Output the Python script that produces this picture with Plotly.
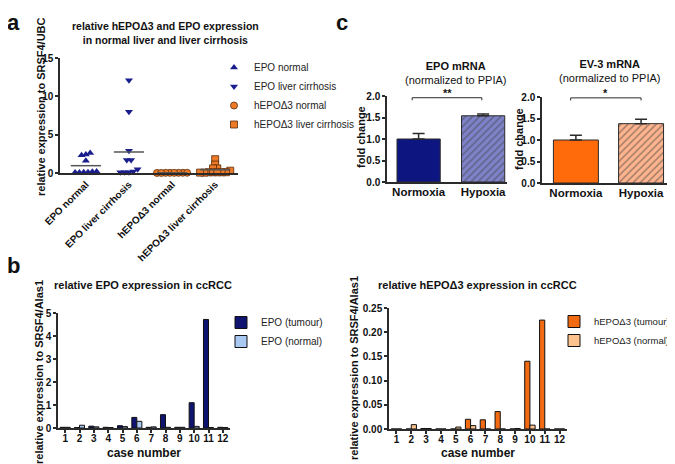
import numpy as np
import plotly.graph_objects as go

# reference picture size; the page body adds an 8px margin, so the figure is drawn 8px smaller
W, H = 675, 464
PAD = 8
FONT = "Liberation Sans"
NAVY = "#1a1d8c"
ORANGE = "#ec7a26"
DARK = "#2b2b2b"

# panel a: relative expression in liver (dot plot)
groups_a = ["EPO normal", "EPO liver cirrhosis", "hEPOΔ3 normal", "hEPOΔ3 liver cirrhosis"]
epo_normal = [2.6, 2.4, 2.3, 1.6, 0.1, 0.05, 0.1, 0.15, 0.05, 0.2]
epo_cirrhosis = [12.1, 8.0, 2.9, 1.7, 1.7, 0.5, 0.1, 0.1, 0.2, 0.1]
hepo_normal = [0.02, 0.03, 0.01, 0.02, 0.03, 0.02, 0.01, 0.02]
hepo_cirrhosis = [1.8, 1.1, 0.6, 0.6, 0.3, 0.1, 0.1, 0.1, 0.1, 0.05, 0.05, 0.1]

# panel b: ccRCC cases
cases = list(range(1, 13))
epo_tumour = [0.03, 0.02, 0.08, 0.03, 0.1, 0.46, 0.03, 0.58, 0.03, 1.1, 4.72, 0.03]
epo_normal_tissue = [0.03, 0.12, 0.05, 0.02, 0.06, 0.29, 0.05, 0.03, 0.03, 0.07, 0.02, 0.02]
hepo_tumour = [0.0, 0.0, 0.001, 0.0, 0.0, 0.02, 0.019, 0.036, 0.0, 0.14, 0.225, 0.0]
hepo_normal_tissue = [0.0, 0.009, 0.001, 0.0, 0.004, 0.007, 0.0, 0.0, 0.001, 0.008, 0.0, 0.0]

# panel c: hypoxia fold change
conditions = ["Normoxia", "Hypoxia"]
epo_fold = [1.0, 1.54]
epo_sem = [0.13, 0.04]
ev3_fold = [1.0, 1.38]
ev3_sem = [0.11, 0.10]

FW, FH = W - PAD, H - PAD


def fx(px):
    return (px - PAD) / FW


def fy(py):
    return 1 - (py - PAD) / FH


def dom_x(a, b):
    return [fx(a), fx(b)]


def dom_y(top, bottom):
    return [fy(bottom), fy(top)]


def swarm(vals, step, tol):
    # simple beeswarm: points with close values get spread sideways
    vals = np.asarray(vals)
    offs = np.zeros(len(vals))
    bins = []
    for i in np.argsort(vals):
        if bins and vals[i] - vals[bins[-1][0]] < tol:
            bins[-1].append(i)
        else:
            bins.append([i])
    for b in bins:
        k = len(b)
        for j, i in enumerate(b):
            offs[i] = (j - (k - 1) / 2) * step
    return offs


fig = go.Figure()

# ---- panel a
a_series = [
    (epo_normal, "triangle-up", NAVY, NAVY),
    (epo_cirrhosis, "triangle-down", NAVY, NAVY),
    (hepo_normal, "circle", ORANGE, "#5a2a08"),
    (hepo_cirrhosis, "square", ORANGE, "#5a2a08"),
]
for k, (vals, sym, col, edge) in enumerate(a_series):
    xs = k + swarm(vals, 0.1, 0.5)
    fig.add_trace(go.Scatter(
        x=xs, y=vals, mode="markers", name=groups_a[k],
        marker=dict(symbol=sym, size=7, color=col,
                    line=dict(color=edge, width=0.8 if edge != col else 0)),
        cliponaxis=False, xaxis="x", yaxis="y", legend="legend",
    ))
    m = float(np.mean(vals))
    fig.add_trace(go.Scatter(
        x=[k - 0.35, k + 0.35], y=[m, m], mode="lines",
        line=dict(color="#555555", width=1.5), showlegend=False,
        cliponaxis=False, xaxis="x", yaxis="y", hoverinfo="skip",
    ))

# ---- panel b
b_series = [
    (epo_tumour, "EPO (tumour)", "#0e1470", "x2", "y2", "legend2"),
    (epo_normal_tissue, "EPO (normal)", "#a9c9f2", "x2", "y2", "legend2"),
    (hepo_tumour, "hEPOΔ3 (tumour)", "#f26a12", "x3", "y3", "legend3"),
    (hepo_normal_tissue, "hEPOΔ3 (normal)", "#fdc28e", "x3", "y3", "legend3"),
]
for vals, name, col, xa, ya, lg in b_series:
    fig.add_trace(go.Bar(
        x=cases, y=vals, name=name, marker=dict(color=col, line=dict(color="#111111", width=1)),
        xaxis=xa, yaxis=ya, legend=lg,
    ))

# ---- panel c
fig.add_trace(go.Bar(
    x=[0, 1], y=epo_fold, width=0.67, showlegend=False, xaxis="x4", yaxis="y4",
    marker=dict(color=["#0d1680", "#7e82c9"], line=dict(color=DARK, width=1),
                pattern=dict(shape=["", "/"], fillmode="overlay", fgcolor="#b9bce8",
                             size=5, solidity=0.3)),
    error_y=dict(type="data", array=epo_sem, arrayminus=[0, 0], symmetric=False,
                 color=DARK, thickness=1.5, width=6),
))
fig.add_trace(go.Bar(
    x=[0, 1], y=ev3_fold, width=0.69, showlegend=False, xaxis="x5", yaxis="y5",
    marker=dict(color=["#ff6a0a", "#ffb48e"], line=dict(color=DARK, width=1),
                pattern=dict(shape=["", "/"], fillmode="overlay", fgcolor="#ffd8c4",
                             size=5, solidity=0.3)),
    error_y=dict(type="data", array=ev3_sem, arrayminus=[0, 0], symmetric=False,
                 color=DARK, thickness=1.5, width=6),
))

axis_common = dict(
    showline=True, linecolor=DARK, linewidth=1.5, ticks="outside", ticklen=3,
    tickwidth=1.5, tickcolor=DARK, showgrid=False, zeroline=False, ticklabelstandoff=0,
    tickfont=dict(family=FONT, size=10, color="#111111", weight="bold"),
)
cat_font = dict(family=FONT, size=11.5, color="#111111", weight="bold")

fig.update_layout(
    width=FW, height=FH, margin=dict(l=0, r=0, t=0, b=0, autoexpand=False),
    paper_bgcolor="white", plot_bgcolor="white",
    barmode="group", bargap=0.3, bargroupgap=0,
    font=dict(family=FONT, size=10, color="#111111"),
    xaxis=dict(axis_common, domain=dom_x(60, 238), range=[-0.6, 3.53], tickvals=[0, 1, 2, 3],
               ticktext=groups_a, tickangle=-45, ticks="", anchor="y"),
    yaxis=dict(axis_common, domain=dom_y(58, 173), range=[0, 15], tickvals=[0, 5, 10, 15], anchor="x"),
    xaxis2=dict(axis_common, domain=dom_x(58, 230), range=[0.5, 12.5], tickvals=cases,
                ticklabelstandoff=-3, anchor="y2"),
    yaxis2=dict(axis_common, domain=dom_y(313, 428), range=[0, 5], dtick=1, anchor="x2"),
    xaxis3=dict(axis_common, domain=dom_x(389, 567), range=[0.5, 12.5], tickvals=cases,
                ticklabelstandoff=-3, anchor="y3"),
    yaxis3=dict(axis_common, domain=dom_y(308, 429), range=[0, 0.25], dtick=0.05,
                tickformat=".2f", anchor="x3"),
    xaxis4=dict(axis_common, domain=dom_x(387, 507), range=[-0.49, 1.37], tickvals=[0, 1],
                ticktext=conditions, ticks="", ticklabelstandoff=-2, anchor="y4", tickfont=cat_font),
    yaxis4=dict(axis_common, domain=dom_y(96, 182), range=[0, 2], dtick=0.5,
                tickformat=".1f", anchor="x4"),
    xaxis5=dict(axis_common, domain=dom_x(542, 673), range=[-0.52, 1.49], tickvals=[0, 1],
                ticktext=conditions, ticks="", ticklabelstandoff=-2, anchor="y5", tickfont=cat_font),
    yaxis5=dict(axis_common, domain=dom_y(97, 183), range=[0, 2], dtick=0.5,
                tickformat=".1f", anchor="x5"),
    legend=dict(x=fx(214), y=fy(53), xanchor="left", yanchor="top", bgcolor="rgba(0,0,0,0)",
                font=dict(family=FONT, size=10, color="#222222"), itemwidth=30,
                tracegroupgap=0),
    legend2=dict(x=fx(221), y=fy(308), xanchor="left", yanchor="top", bgcolor="rgba(0,0,0,0)",
                 font=dict(family=FONT, size=10, color="#222222"), itemwidth=30),
    legend3=dict(x=1, y=fy(307), xanchor="right", yanchor="top", bgcolor="rgba(0,0,0,0)",
                 font=dict(family=FONT, size=9.5, color="#222222"), itemwidth=30),
    showlegend=True,
)

bold = dict(family=FONT, color="#111111", weight="bold")
ann = [
    dict(text="a", x=fx(14), y=fy(12), font=dict(bold, size=22)),
    dict(text="b", x=fx(14), y=fy(265), font=dict(bold, size=22)),
    dict(text="c", x=fx(342), y=fy(12), font=dict(bold, size=22)),
    dict(text="relative hEPOΔ3 and EPO expression<br>in normal liver and liver cirrhosis",
         x=fx(165), y=fy(33), font=dict(bold, size=10.5)),
    dict(text="relative expression to SRSF4/UBC", x=fx(41), y=fy(107), textangle=-90,
         font=dict(bold, size=11)),
    dict(text="relative EPO expression in ccRCC", x=fx(143), y=fy(285), font=dict(bold, size=11)),
    dict(text="relative expression to SRSF4/Alas1", x=fx(39), y=fy(372), textangle=-90,
         font=dict(bold, size=11)),
    dict(text="case number", x=fx(144), y=fy(453), font=dict(bold, size=12)),
    dict(text="relative hEPOΔ3 expression in ccRCC", x=fx(477), y=fy(285), font=dict(bold, size=11)),
    dict(text="relative expression to SRSF4/Alas1", x=fx(354), y=fy(368), textangle=-90,
         font=dict(bold, size=11)),
    dict(text="case number", x=fx(478), y=fy(453), font=dict(bold, size=12)),
    dict(text="<b>EPO mRNA</b><br>(normalized to PPIA)", x=fx(455), y=fy(73),
         font=dict(family=FONT, color="#111111", size=11)),
    dict(text="<b>EV-3 mRNA</b><br>(normalized to PPIA)", x=fx(609), y=fy(71),
         font=dict(family=FONT, color="#111111", size=11)),
    dict(text="fold change", x=fx(361), y=fy(137), textangle=-90, font=dict(bold, size=11)),
    dict(text="fold change", x=fx(519), y=fy(139), textangle=-90, font=dict(bold, size=11)),
]
for a in ann:
    a.update(xref="paper", yref="paper", showarrow=False, xanchor="center", yanchor="middle")
for a in (ann[0], ann[2]):
    # keep the panel letters inside the top edge
    a.update(y=fy(PAD), yanchor="top")
ann += [
    dict(text="**", x=0.45, y=1.96, xref="x4", yref="y4", showarrow=False, yanchor="bottom",
         yshift=-3, font=dict(bold, size=11)),
    dict(text="*", x=0.46, y=1.98, xref="x5", yref="y5", showarrow=False, yanchor="bottom",
         yshift=-3, font=dict(bold, size=11)),
]
fig.update_layout(annotations=ann)

fig.update_layout(shapes=[
    dict(type="path", path="M -0.1,1.9 L -0.1,1.96 L 0.98,1.96 L 0.98,1.9",
         xref="x4", yref="y4", line=dict(color=DARK, width=1)),
    dict(type="path", path="M -0.08,1.92 L -0.08,1.98 L 1.0,1.98 L 1.0,1.92",
         xref="x5", yref="y5", line=dict(color=DARK, width=1)),
])

fig.write_html("out.html")
